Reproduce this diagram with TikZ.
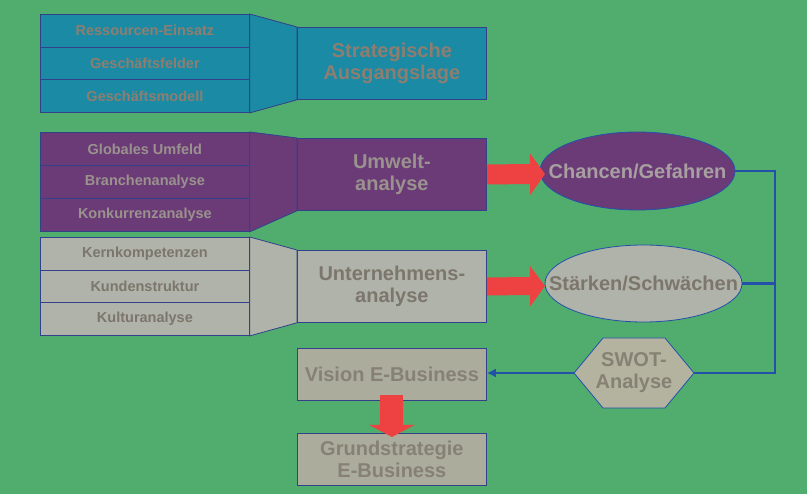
\documentclass[tikz,border=0pt]{standalone}
\usepackage{fontspec}
\setmainfont{Liberation Sans}
\usetikzlibrary{arrows.meta,backgrounds,calc,shapes.geometric}
\definecolor{bgc}{HTML}{50AD6D}
\definecolor{tealc}{HTML}{1A8AA5}
\definecolor{purpc}{HTML}{6B3B78}
\definecolor{greyc}{HTML}{B0B3A9}
\definecolor{visc}{HTML}{ABAC9C}
\definecolor{hexc}{HTML}{B3B39F}
\definecolor{edgec}{HTML}{33408A}
\definecolor{redc}{HTML}{EE4242}
\definecolor{linec}{HTML}{2450AA}
\definecolor{txtblue}{HTML}{8E7E70}
\definecolor{txtpurp}{HTML}{9A928C}
\definecolor{txtgrey}{HTML}{7C766C}
\definecolor{txtell}{HTML}{A8A0A0}
\definecolor{txtvis}{HTML}{868174}
\tikzset{
  smallfont/.style={font=\bfseries\fontsize{14.5}{16}\selectfont},
  bigfont/.style={font=\bfseries\fontsize{20}{22}\selectfont},
  lbox/.style={draw=edgec, line width=0.8pt, minimum width=209pt, minimum height=32.7pt,
    inner sep=0pt, anchor=north west, smallfont},
  rbox/.style={draw=edgec, line width=0.8pt, minimum width=189pt, minimum height=72pt,
    inner sep=0pt, anchor=north west, bigfont, align=center},
  ell/.style={ellipse, draw=linec, line width=0.8pt, inner sep=0pt},
  redarrow/.style={draw=redc, line width=#1, line cap=butt},
  conn/.style={draw=linec, line width=2.6pt},
}
\begin{document}
\begin{tikzpicture}[x=1pt,y=-1pt]
\useasboundingbox (0,0) rectangle (807,494);
% blue group
\node[lbox, fill=tealc, text=txtblue] (b1) at (40,14) {Ressourcen-Einsatz};
\node[lbox, fill=tealc, text=txtblue] (b2) at (40,46.7) {Geschäftsfelder};
\node[lbox, fill=tealc, text=txtblue] (b3) at (40,79.4) {Geschäftsmodell};
\node[rbox, fill=tealc, text=txtblue] (sa) at (297,27) {Strategische\\Ausgangslage};
% purple group
\node[lbox, fill=purpc, text=txtpurp, minimum height=33pt] (p1) at (40,132) {Globales Umfeld};
\node[lbox, fill=purpc, text=txtpurp, minimum height=33pt] (p2) at (40,165) {Branchenanalyse};
\node[lbox, fill=purpc, text=txtpurp, minimum height=33pt] (p3) at (40,198) {Konkurrenzanalyse};
\node[rbox, fill=purpc, text=txtpurp] (ua) at (297,138) {Umwelt-\\analyse};
% grey group
\node[lbox, fill=greyc, text=txtgrey] (g1) at (40,237) {Kernkompetenzen};
\node[lbox, fill=greyc, text=txtgrey] (g2) at (40,269.7) {Kundenstruktur};
\node[lbox, fill=greyc, text=txtgrey] (g3) at (40,302.4) {Kulturanalyse};
\node[rbox, fill=greyc, text=txtgrey] (una) at (297,250) {Unternehmens-\\analyse};
% ellipses
\node[ell, fill=purpc, minimum width=195pt, minimum height=78pt] (cg) at (637.5,171) {};
\node[bigfont, text=txtell, inner sep=0pt] (cgt) at (cg.center) {Chancen/Gefahren};
\node[ell, fill=greyc, minimum width=197pt, minimum height=77pt] (sg) at (643.5,283.5) {};
\node[bigfont, text=txtgrey, inner sep=0pt] (sgt) at (sg.center) {Stärken/Schwächen};
% vision boxes
\node[rbox, fill=visc, text=txtvis, minimum height=52pt] (vb) at (297,348) {Vision E-Business};
\node[rbox, fill=visc, text=txtvis, minimum height=52pt] (gs) at (297,433) {Grundstrategie\\E-Business};
% SWOT
\node[bigfont, text=txtvis, align=center, inner sep=0pt] (sw) at (634,373) {SWOT-\\Analyse};
\coordinate (hexL) at ($(sw)+(-60,0)$);
\coordinate (hexR) at ($(sw)+(60,0)$);
\coordinate (rx) at (775,0);
\coordinate (tip1) at (545,174);
\coordinate (tip2) at (545,286);
% red arrows
\draw[redarrow=20pt, -{Triangle[length=15pt,width=41pt]}] (ua.east) -- (tip1);
\draw[redarrow=18pt, -{Triangle[length=15pt,width=40pt]}] (una.east) -- (tip2);
\draw[redarrow=23pt, -{Triangle[length=12pt,width=45pt]}] ([yshift=6pt]vb.south) -- ([yshift=-4pt]gs.north);
% blue connectors
\draw[conn] (cg.east) -- (cg.east -| rx) -- (rx |- hexR) -- (hexR);
\draw[conn] (sg.east) -- (sg.east -| rx);
\draw[conn, -{Latex[length=9pt,width=9pt]}] (hexL) -- (vb.east |- hexL);
\begin{pgfonlayer}{background}
\fill[bgc] (0,0) rectangle (807,494);
\filldraw[fill=tealc, draw=edgec, line width=0.8pt] (b1.north east) -- (sa.north west) -- (sa.south west) -- (b3.south east) -- cycle;
\filldraw[fill=purpc, draw=edgec, line width=0.8pt] (p1.north east) -- (ua.north west) -- (ua.south west) -- (p3.south east) -- cycle;
\filldraw[fill=greyc, draw=edgec, line width=0.8pt] (g1.north east) -- (una.north west) -- (una.south west) -- (g3.south east) -- cycle;
\filldraw[fill=hexc, draw=linec, line width=0.8pt] (hexL) -- ($(sw)+(-31,-35)$) -- ($(sw)+(31,-35)$) -- (hexR) -- ($(sw)+(31,35)$) -- ($(sw)+(-31,35)$) -- cycle;
\end{pgfonlayer}
\end{tikzpicture}
\end{document}
